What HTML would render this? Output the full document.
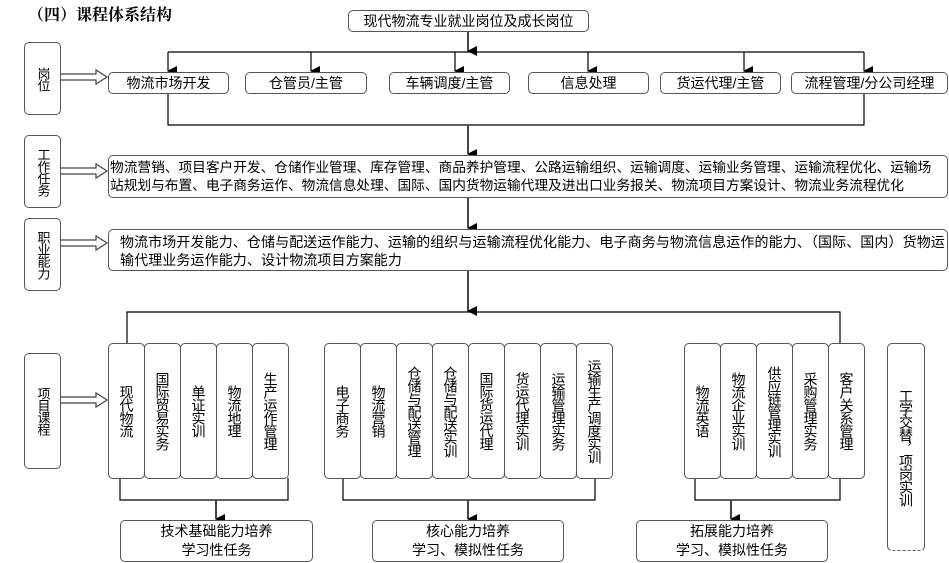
<!DOCTYPE html>
<html><head><meta charset="utf-8">
<style>
body{margin:0;width:949px;height:563px;background:#fff;position:relative;overflow:hidden;font-family:"Liberation Sans","Noto Sans CJK SC",sans-serif;color:#000}
.b{position:absolute;border:1.5px solid #555;border-radius:5px;box-sizing:border-box;background:#fff;font-size:14px;display:flex;align-items:center;justify-content:center;white-space:nowrap}
.v{writing-mode:vertical-rl;letter-spacing:-1px;line-height:16px}
.s{font-size:13px}
svg{position:absolute;left:0;top:0}
.t{position:absolute;white-space:nowrap;line-height:18px}
</style></head><body>
<svg width="949" height="563">
<defs><marker id="a" markerWidth="12" markerHeight="12" refX="5" refY="9" orient="auto" markerUnits="userSpaceOnUse"><path d="M0,0 L10,0 L5,10 z" fill="#000"/></marker></defs>
<g stroke="#000" stroke-width="1.2" fill="none">
<line x1="168" y1="52" x2="864" y2="52"/>
<line x1="168" y1="52" x2="168" y2="71" marker-end="url(#a)"/>
<line x1="311" y1="52" x2="311" y2="71" marker-end="url(#a)"/>
<line x1="455" y1="52" x2="455" y2="71" marker-end="url(#a)"/>
<line x1="588" y1="52" x2="588" y2="71" marker-end="url(#a)"/>
<line x1="744" y1="52" x2="744" y2="71" marker-end="url(#a)"/>
<line x1="864" y1="52" x2="864" y2="71" marker-end="url(#a)"/>
<line x1="468" y1="31" x2="468" y2="51" stroke-width="2" stroke="#444" marker-end="url(#a)"/>
<polyline points="168,93 168,125 864,125 864,93"/>
<line x1="468" y1="125" x2="468" y2="154" stroke="#444" stroke-width="2" marker-end="url(#a)"/>
<line x1="468" y1="197" x2="468" y2="228" stroke="#444" stroke-width="2" marker-end="url(#a)"/>
<line x1="468" y1="270" x2="468" y2="311" stroke="#444" stroke-width="2" marker-end="url(#a)"/>
<polyline points="127,343 127,312 840,312 840,343"/>
<polyline points="120,478 120,500 288,500 288,478"/>
<line x1="216" y1="500" x2="216" y2="519" stroke="#444" stroke-width="2" marker-end="url(#a)"/>
<polyline points="343,478 343,500 595,500 595,478"/>
<line x1="468" y1="500" x2="468" y2="519" stroke="#444" stroke-width="2" marker-end="url(#a)"/>
<polyline points="695,478 695,500 840,500 840,478"/>
<line x1="731" y1="500" x2="731" y2="519" stroke="#444" stroke-width="2" marker-end="url(#a)"/>
</g>
<g stroke="#444" stroke-width="1.2" fill="#fff">
<path d="M60,74 h36 v-4 l11,7 l-11,7 v-4 h-36 z"/>
<path d="M60,168 h36 v-4 l11,7 l-11,7 v-4 h-36 z"/>
<path d="M60,240 h36 v-4 l11,7 l-11,7 v-4 h-36 z"/>
<path d="M60,397 h36 v-4 l11,7 l-11,7 v-4 h-36 z"/>
</g>
</svg>
<div style="position:absolute;left:28px;top:2px;font-size:16px;font-weight:bold;font-family:'Liberation Serif','Noto Serif CJK SC',serif">（四）课程体系结构</div>
<div class="b" style="left:348px;top:10px;width:241px;height:22px">现代物流专业就业岗位及成长岗位</div>
<div class="b" style="left:108px;top:72px;width:121px;height:22px">物流市场开发</div>
<div class="b" style="left:245px;top:72px;width:122px;height:22px">仓管员/主管</div>
<div class="b" style="left:389px;top:72px;width:121px;height:22px">车辆调度/主管</div>
<div class="b" style="left:528px;top:72px;width:121px;height:22px">信息处理</div>
<div class="b" style="left:660px;top:72px;width:121px;height:22px">货运代理/主管</div>
<div class="b" style="left:791px;top:72px;width:157px;height:22px">流程管理/分公司经理</div>
<div class="b v s" style="left:24px;top:42px;width:37px;height:73px">岗位</div>
<div class="b v s" style="left:24px;top:135px;width:37px;height:73px">工作任务</div>
<div class="b v s" style="left:24px;top:218px;width:37px;height:73px">职业能力</div>
<div class="b v s" style="left:24px;top:353px;width:37px;height:116px">项目课程</div>
<div class="b" style="left:108px;top:155px;width:840px;height:43px;display:block"></div>
<div class="t" style="left:110px;top:159px;font-size:13.7px">物流营销、项目客户开发、仓储作业管理、库存管理、商品养护管理、公路运输组织、运输调度、运输业务管理、运输流程优化、运输场<br>站规划与布置、电子商务运作、物流信息处理、国际、国内货物运输代理及进出口业务报关、物流项目方案设计、物流业务流程优化</div>
<div class="b" style="left:108px;top:229px;width:840px;height:42px;display:block"></div>
<div class="t" style="left:120px;top:233px;font-size:14px;letter-spacing:0.1px">物流市场开发能力、仓储与配送运作能力、运输的组织与运输流程优化能力、电子商务与物流信息运作的能力、（国际、国内）货物运<br>输代理业务运作能力、设计物流项目方案能力</div>

<div class="b v" style="left:108px;top:343px;width:37px;height:136px">现代物流</div>
<div class="b v" style="left:144px;top:343px;width:37px;height:136px">国际贸易实务</div>
<div class="b v" style="left:180px;top:343px;width:37px;height:136px">单证实训</div>
<div class="b v" style="left:216px;top:343px;width:37px;height:136px">物流地理</div>
<div class="b v" style="left:252px;top:343px;width:37px;height:136px">生产运作管理</div>

<div class="b v" style="left:324px;top:343px;width:37px;height:136px">电子商务</div>
<div class="b v" style="left:360px;top:343px;width:37px;height:136px">物流营销</div>
<div class="b v" style="left:396px;top:343px;width:37px;height:136px">仓储与配送管理</div>
<div class="b v" style="left:432px;top:343px;width:37px;height:136px">仓储与配送实训</div>
<div class="b v" style="left:468px;top:343px;width:37px;height:136px">国际货运代理</div>
<div class="b v" style="left:504px;top:343px;width:37px;height:136px">货运代理实训</div>
<div class="b v" style="left:540px;top:343px;width:37px;height:136px">运输管理实务</div>
<div class="b v" style="left:576px;top:343px;width:37px;height:136px">运输生产调度实训</div>

<div class="b v" style="left:684px;top:343px;width:37px;height:136px">物流英语</div>
<div class="b v" style="left:720px;top:343px;width:37px;height:136px">物流企业实训</div>
<div class="b v" style="left:756px;top:343px;width:37px;height:136px">供应链管理实训</div>
<div class="b v" style="left:792px;top:343px;width:37px;height:136px">采购管理实务</div>
<div class="b v" style="left:828px;top:343px;width:37px;height:136px">客户关系管理</div>

<div class="b v" style="left:887px;top:343px;width:38px;height:208px;border-bottom-style:dashed">工学交替，项岗实训</div>

<div class="b" style="left:120px;top:520px;width:193px;height:42px;line-height:19px;text-align:center;white-space:normal">技术基础能力培养<br>学习性任务</div>
<div class="b" style="left:372px;top:520px;width:192px;height:42px;line-height:19px;text-align:center">核心能力培养<br>学习、模拟性任务</div>
<div class="b" style="left:636px;top:520px;width:192px;height:42px;line-height:19px;text-align:center">拓展能力培养<br>学习、模拟性任务</div>
</body></html>
